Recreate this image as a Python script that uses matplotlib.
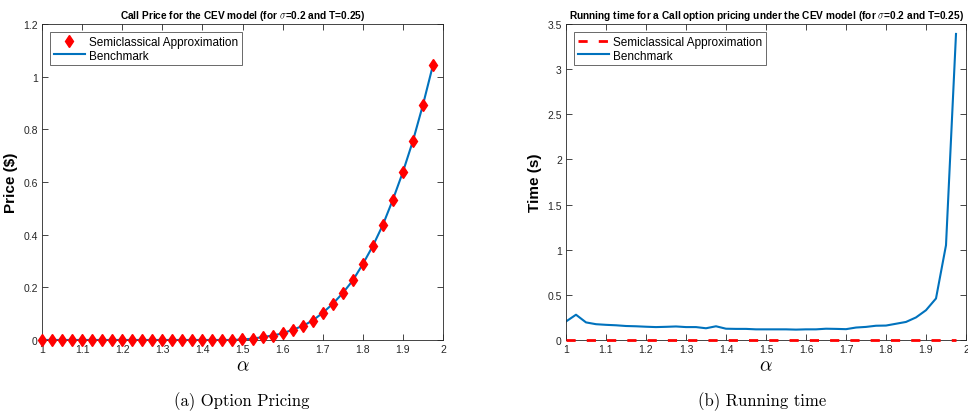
import numpy as np
import matplotlib
matplotlib.use("Agg")
import matplotlib.pyplot as plt
from matplotlib.ticker import FuncFormatter

plt.rcParams["mathtext.fontset"] = "cm"
plt.rcParams["font.family"] = ["Liberation Sans", "DejaVu Sans"]

# CEV exponent grid
alpha = [1.0, 1.025, 1.05, 1.075, 1.1, 1.125, 1.15, 1.175, 1.2, 1.225,
         1.25, 1.275, 1.3, 1.325, 1.35, 1.375, 1.4, 1.425, 1.45, 1.475,
         1.5, 1.525, 1.55, 1.575, 1.6, 1.625, 1.65, 1.675, 1.7, 1.725,
         1.75, 1.775, 1.8, 1.825, 1.85, 1.875, 1.9, 1.925, 1.95, 1.975]

# call prices
price_semi = [0.0, 0.0, 0.0, 0.0, 0.0, 0.0, 0.0, 0.0, 0.0, 0.0,
              0.0, 0.0, 0.0, 0.0, 0.0, 0.0, 0.0, 0.0, 0.0, 0.0,
              0.002, 0.005, 0.011, 0.017, 0.025, 0.039, 0.053, 0.074, 0.103, 0.137,
              0.178, 0.226, 0.288, 0.357, 0.437, 0.533, 0.638, 0.756, 0.893, 1.044]
price_bench = [0.0, 0.0, 0.0, 0.0, 0.0, 0.0, 0.0, 0.0, 0.0, 0.0,
               0.0, 0.0, 0.0, 0.0, 0.0, 0.0, 0.0, 0.0, 0.0, 0.0,
               0.002, 0.005, 0.011, 0.017, 0.025, 0.039, 0.053, 0.074, 0.103, 0.137,
               0.178, 0.226, 0.288, 0.357, 0.437, 0.533, 0.638, 0.756, 0.893, 1.044]

# running times (seconds)
time_semi = [0.002] * 40
time_bench = [0.205, 0.28, 0.195, 0.175, 0.168, 0.163, 0.155, 0.152, 0.147, 0.143,
              0.146, 0.15, 0.143, 0.143, 0.13, 0.152, 0.125, 0.123, 0.123, 0.118,
              0.118, 0.118, 0.118, 0.115, 0.118, 0.118, 0.125, 0.123, 0.12, 0.138,
              0.145, 0.158, 0.16, 0.18, 0.2, 0.25, 0.33, 0.46, 1.05, 3.39]

blue = "#0072BD"
axcol = "#262626"


def style_axes(ax, ymax, ystep):
    ax.set_xlim(1, 2)
    ax.set_ylim(0, ymax)
    ax.set_xticks(np.arange(1, 2.001, 0.1))
    ax.set_yticks(np.arange(0, ymax + 1e-9, ystep))
    fmt = FuncFormatter(lambda v, p: f"{v:.2f}".rstrip("0").rstrip("."))
    ax.xaxis.set_major_formatter(fmt)
    ax.yaxis.set_major_formatter(fmt)
    ax.tick_params(direction="in", top=True, right=True, labelsize=7.5,
                   length=4, width=0.6, colors=axcol, pad=3)
    for s in ax.spines.values():
        s.set_color(axcol)
        s.set_linewidth(0.6)
    ax.set_xlabel(r"$\alpha$", fontsize=14, labelpad=2)


def add_legend(ax):
    leg = ax.legend(loc="upper left", fontsize=8.5, borderaxespad=0.7,
                    fancybox=False, handlelength=2.6, handletextpad=0.4,
                    borderpad=0.3, labelspacing=0.15)
    leg.get_frame().set_edgecolor(axcol)
    leg.get_frame().set_linewidth(0.6)


fig = plt.figure(figsize=(9.68, 4.14), dpi=100)
ax1 = fig.add_axes([42 / 968, 73 / 414, 401 / 968, 316 / 414])
ax2 = fig.add_axes([566 / 968, 73 / 414, 400 / 968, 316 / 414])

ax1.plot(alpha, price_semi, "d", color="red", markersize=6,
         label="Semiclassical Approximation", zorder=3, clip_on=False)
ax1.plot(alpha, price_bench, "-", color=blue, linewidth=1.5, label="Benchmark")
style_axes(ax1, 1.2, 0.2)
ax1.set_ylabel("Price ($)", fontsize=11, fontweight="bold", labelpad=4)
ax1.set_title(r"Call Price for the CEV model (for $\sigma$=0.2 and T=0.25)",
              fontsize=7.3, fontweight="bold", pad=4)
add_legend(ax1)

ax2.plot(alpha, time_semi, "--", color="red", linewidth=2, dashes=(3.3, 4),
         label="Semiclassical Approximation", zorder=4, clip_on=False)
ax2.plot(alpha, time_bench, "-", color=blue, linewidth=1.5, label="Benchmark")
style_axes(ax2, 3.5, 0.5)
ax2.set_ylabel("Time (s)", fontsize=11, fontweight="bold", labelpad=4)
ax2.set_title(r"Running time for a Call option pricing under the CEV model (for $\sigma$=0.2 and T=0.25)",
              fontsize=7.3, fontweight="bold", pad=4)
add_legend(ax2)

fig.text(242 / 968, 1 - 402 / 414, "(a) Option Pricing", ha="center", va="center",
         fontsize=12, family="cmr10")
fig.text(762 / 968, 1 - 402 / 414, "(b) Running time", ha="center", va="center",
         fontsize=12, family="cmr10")

fig.savefig("out.png", dpi=100)
